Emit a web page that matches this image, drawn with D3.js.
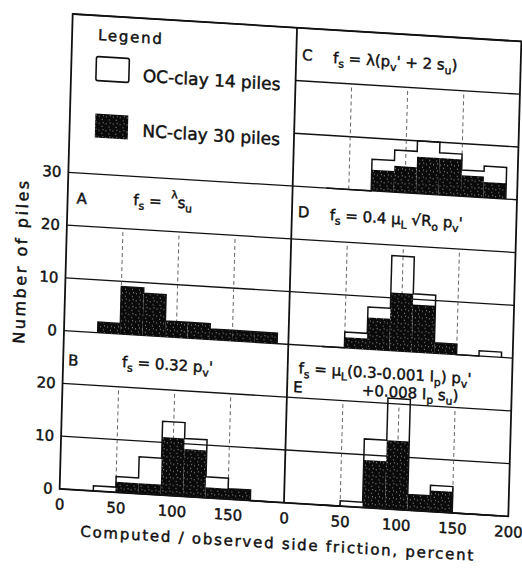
<!DOCTYPE html>
<html>
<head>
<meta charset="utf-8">
<script src="https://cdn.jsdelivr.net/npm/d3@7"></script>
<style>
  body { margin: 0; background: #fff; }
  text { font-family: "DejaVu Sans", sans-serif; fill: #111; stroke: #111; stroke-width: 0.45; white-space: pre; }
</style>
</head>
<body>
<div id="canvas"></div>
<script>
// bins are 20 % wide, starting at 30 %
var binStart = [30, 50, 70, 90, 110, 130, 150, 170];
var binWidth = 20;

// NC-clay counts (black) and NC+OC totals (white outline stacked on top)
var ncA  = [2, 9, 8, 3, 3, 2, 2, 2];
var totA = [2, 9, 8, 3, 3, 2, 2, 2];
var ncB  = [0, 2, 2, 11, 9, 2, 2, 0];
var totB = [1, 3, 7, 14, 11, 4, 2, 0];
var ncC  = [0, 0, 4, 5, 7, 7, 4, 3];
var totC = [0, 0, 6, 8, 10, 8, 5, 6];
var ncD  = [0, 2, 6, 11, 9, 2, 0, 0];
var totD = [0, 3, 8, 18, 11, 2, 0, 1];
var ncE  = [0, 0, 9, 13, 3, 4, 0, 0];
var totE = [0, 1, 13, 21, 3, 5, 0, 0];

var xTicksLeft = [0, 50, 100, 150];
var xTicksRight = [0, 50, 100, 150, 200];
var yTicks = [0, 10, 20, 30, 40, 50, 60];

var width = 522,
    height = 572,
    plotW = 450,
    plotH = 475;

var svg = d3.select("#canvas").append("svg")
    .attr("width", width)
    .attr("height", height);

svg.append("rect")
    .attr("width", width)
    .attr("height", height)
    .attr("fill", "#fff");

// speckled black like the printed NC bars
var pat = svg.append("defs").append("pattern")
    .attr("id", "stipple")
    .attr("width", 7)
    .attr("height", 7)
    .attr("patternUnits", "userSpaceOnUse");
pat.append("rect").attr("width", 7).attr("height", 7).attr("fill", "#0a0a0a");
[[1, 2], [4, 5], [5, 1]].forEach(function(p) {
  pat.append("rect").attr("x", p[0]).attr("y", p[1])
      .attr("width", 1).attr("height", 1).attr("fill", "#999");
});

// the scanned page is skewed a little, draw everything in that frame
var g = svg.append("g")
    .attr("transform", "matrix(0.997,0.061,-0.0275,0.9999,72.7,14)");

var xL = d3.scaleLinear().domain([0, 200]).range([0, plotW / 2]);
var xR = d3.scaleLinear().domain([0, 200]).range([plotW / 2, plotW]);
var y = d3.scaleLinear().domain([0, 90]).range([plotH, 0]);

// horizontal rules, the legend box has none
g.selectAll(".hfull")
    .data([0, 10, 20, 30, 40, 50, 60, 90]).enter()
  .append("line")
    .attr("x1", 0).attr("x2", plotW)
    .attr("y1", y).attr("y2", y)
    .attr("stroke", "#111").attr("stroke-width", 1.3);

g.selectAll(".hright")
    .data([70, 80]).enter()
  .append("line")
    .attr("x1", plotW / 2).attr("x2", plotW)
    .attr("y1", y).attr("y2", y)
    .attr("stroke", "#111").attr("stroke-width", 1.3);

var panels = [
  {nc: ncA, tot: totA, x: xL, base: 30},
  {nc: ncB, tot: totB, x: xL, base: 0},
  {nc: ncC, tot: totC, x: xR, base: 60},
  {nc: ncD, tot: totD, x: xR, base: 30},
  {nc: ncE, tot: totE, x: xR, base: 0}
];

panels.forEach(function(p) {
  var pg = g.append("g");

  pg.selectAll("line.grid")
      .data([50, 100, 150]).enter()
    .append("line")
      .attr("x1", p.x).attr("x2", p.x)
      .attr("y1", y(p.base)).attr("y2", y(p.base + 20))
      .attr("stroke", "#444")
      .attr("stroke-width", 0.8)
      .attr("stroke-dasharray", "4,3");

  pg.selectAll("rect.nc")
      .data(p.nc).enter()
    .append("rect")
      .attr("x", function(d, i) { return p.x(binStart[i]); })
      .attr("width", function(d, i) { return p.x(binStart[i] + binWidth) - p.x(binStart[i]); })
      .attr("y", function(d) { return y(p.base + d); })
      .attr("height", function(d) { return y(p.base) - y(p.base + d); })
      .attr("fill", "url(#stipple)");

  var pts = [[binStart[0], 0]];
  binStart.forEach(function(b, i) { pts.push([b, p.tot[i]]); });
  pts.push([binStart[binStart.length - 1] + binWidth, 0]);

  var step = d3.line()
      .curve(d3.curveStepAfter)
      .x(function(d) { return p.x(d[0]); })
      .y(function(d) { return y(p.base + d[1]); });

  pg.append("path")
      .attr("d", step(pts))
      .attr("fill", "none")
      .attr("stroke", "#111")
      .attr("stroke-width", 1.5);
});

// frame and column divider
g.append("rect")
    .attr("width", plotW).attr("height", plotH)
    .attr("fill", "none").attr("stroke", "#111").attr("stroke-width", 1.8);
g.append("line")
    .attr("x1", plotW / 2).attr("x2", plotW / 2)
    .attr("y1", 0).attr("y2", plotH)
    .attr("stroke", "#111").attr("stroke-width", 1.8);

// axes
function styleAxis(sel) {
  sel.select(".domain").remove();
  sel.selectAll("text")
      .attr("fill", "#111")
      .style("font-family", "'DejaVu Sans', sans-serif")
      .style("font-size", "15px");
}

g.append("g")
    .attr("transform", "translate(0," + plotH + ")")
    .call(d3.axisBottom(xL).tickValues(xTicksLeft).tickSize(0).tickPadding(10))
    .call(styleAxis);

g.append("g")
    .attr("transform", "translate(0," + plotH + ")")
    .call(d3.axisBottom(xR).tickValues(xTicksRight).tickSize(0).tickPadding(10))
    .call(styleAxis);

g.append("g")
    .call(d3.axisLeft(y).tickValues(yTicks).tickSize(0).tickPadding(7)
      .tickFormat(function(d) { return d >= 30 ? d - 30 : d; }))
    .call(styleAxis);

g.append("text")
    .attr("transform", "translate(-45,251) rotate(-90)")
    .attr("text-anchor", "middle")
    .attr("dy", "0.35em")
    .attr("textLength", 163)
    .style("font-size", "16px")
    .text("Number of piles");

g.append("text")
    .attr("x", 219).attr("y", 516)
    .attr("text-anchor", "middle")
    .attr("dy", "0.35em")
    .attr("textLength", 394)
    .style("font-size", "15px")
    .text("Computed / observed side friction, percent");

// legend
g.append("text")
    .attr("x", 26).attr("y", 24.5)
    .attr("textLength", 64)
    .style("font-size", "15px")
    .text("Legend");

g.append("rect")
    .attr("x", 25).attr("y", 41).attr("width", 33).attr("height", 24).attr("rx", 2)
    .attr("fill", "#fff").attr("stroke", "#111").attr("stroke-width", 1.6);
g.append("rect")
    .attr("x", 25.5).attr("y", 98).attr("width", 33).attr("height", 24)
    .attr("fill", "url(#stipple)");

g.append("text")
    .attr("x", 72).attr("y", 63.4)
    .attr("textLength", 138)
    .style("font-size", "17px")
    .text("OC-clay 14 piles");
g.append("text")
    .attr("x", 73).attr("y", 118.4)
    .attr("textLength", 138)
    .style("font-size", "17px")
    .text("NC-clay 30 piles");

// panel titles with sub/superscripts
function formula(x0, y0, parts, size) {
  var t = g.append("text").attr("x", x0).attr("y", y0).style("font-size", size + "px");
  var cur = 0;
  parts.forEach(function(p) {
    var off = p[1] === "sub" ? size * 0.28 : (p[1] === "sup" ? -size * 0.6 : 0);
    t.append("tspan")
        .attr("dy", off - cur)
        .style("font-size", (p[1] ? size * 0.72 : size) + "px")
        .text(p[0]);
    cur = off;
  });
  return t;
}

formula(9, 189, [["A"]], 15);
formula(66, 187, [["f"], ["s", "sub"], [" =  "], ["λ", "sup"], ["s"], ["u", "sub"]], 15);

formula(5, 351, [["B"]], 15);
formula(59, 349.5, [["f"], ["s", "sub"], [" = 0.32 p"], ["v", "sub"], ["'"]], 15);

formula(231, 32, [["C"]], 15);
formula(262, 33, [["f"], ["s", "sub"], [" = λ(p"], ["v", "sub"], ["' + 2 s"], ["u", "sub"], [")"]], 15);

formula(231, 189, [["D"]], 15);
formula(263, 190, [["f"], ["s", "sub"], [" = 0.4 μ"], ["L", "sub"], [" √R"], ["o", "sub"], [" p"], ["v", "sub"], ["'"]], 15);

formula(231, 364, [["E"]], 15);
formula(236, 345, [["f"], ["s", "sub"], [" = μ"], ["L", "sub"], ["(0.3-0.001 I"], ["p", "sub"], [") p"], ["v", "sub"], ["'"]], 15);
formula(300, 363, [["+0.008 I"], ["p", "sub"], [" s"], ["u", "sub"], [")"]], 15);
</script>
</body>
</html>
